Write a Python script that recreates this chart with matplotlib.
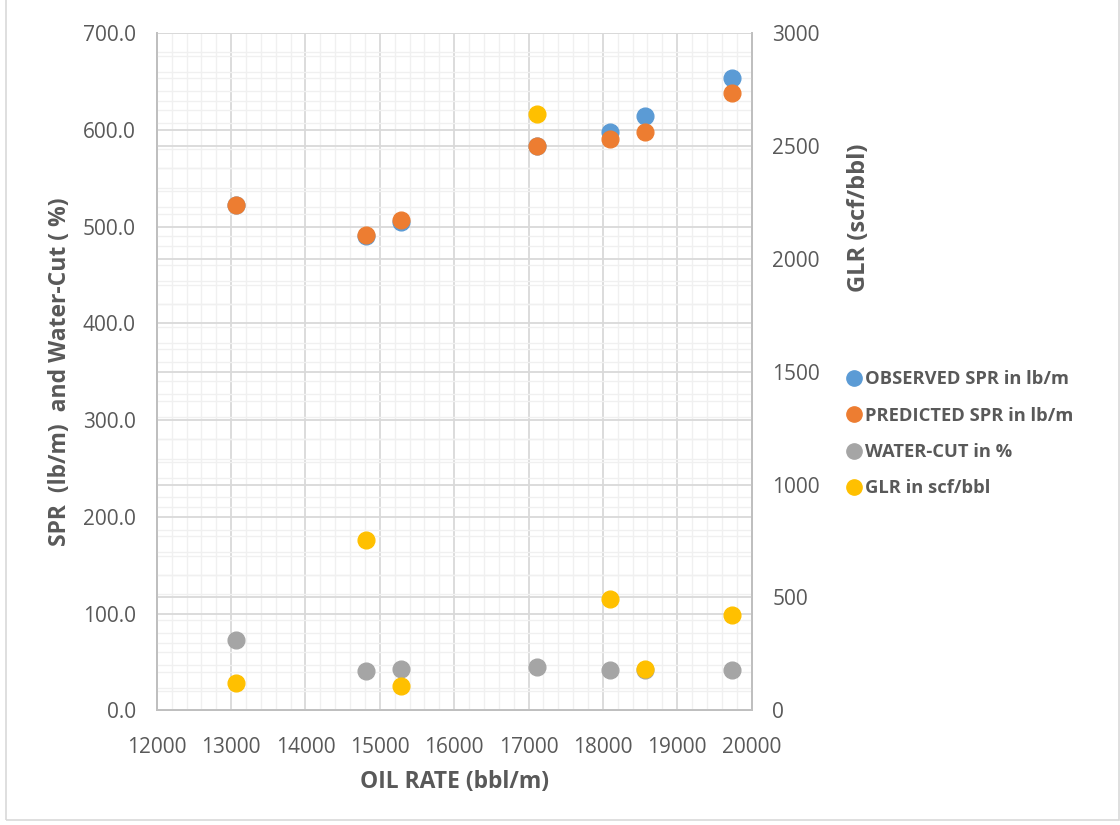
import numpy as np
import matplotlib.pyplot as plt
from matplotlib.ticker import MultipleLocator, FormatStrFormatter
from matplotlib.lines import Line2D

plt.rcParams['font.family'] = ['Open Sans', 'DejaVu Sans']

# Data
oil_rate = [13060, 14820, 15280, 17110, 18100, 18570, 19740]
observed_spr = [522, 490, 505, 583, 598, 614, 653]
predicted_spr = [522, 491, 507, 583, 590, 598, 638]
water_cut = [73, 41, 43, 45, 42, 42, 42]
glr = [120, 753, 106, 2641, 492, 182, 421]

c_obs = '#5B9BD5'
c_pred = '#ED7D31'
c_wc = '#A5A5A5'
c_glr = '#FFC000'
txt = '#595959'

fig = plt.figure(figsize=(11.2, 8.25), dpi=100)
ax = fig.add_axes([0.140, 0.139, 0.531, 0.821])
ax2 = ax.twinx()

ax.set_xlim(12000, 20000)
ax.set_ylim(0, 700)
ax2.set_ylim(0, 3000)

ax.xaxis.set_major_locator(MultipleLocator(1000))
ax.xaxis.set_minor_locator(MultipleLocator(200))
ax.yaxis.set_major_locator(MultipleLocator(100))
ax.yaxis.set_minor_locator(MultipleLocator(20))
ax.yaxis.set_major_formatter(FormatStrFormatter('%.1f'))
ax2.yaxis.set_major_locator(MultipleLocator(500))
ax2.yaxis.set_minor_locator(MultipleLocator(100))

# grids
ax.grid(which='major', color='#D9D9D9', lw=1.3)
ax.grid(which='minor', color='#F0F0F0', lw=1.0)
ax2.grid(which='major', axis='y', color='#D9D9D9', lw=1.3)
ax2.grid(which='minor', axis='y', color='#F0F0F0', lw=1.0)
ax.set_axisbelow(True)
ax2.set_axisbelow(True)

for a in (ax, ax2):
    for s in a.spines.values():
        s.set_color('#BFBFBF')
        s.set_linewidth(1.3)
    a.spines['top'].set_visible(False)
    a.tick_params(which='both', length=0, labelsize=15, labelcolor=txt, pad=15)
ax.tick_params(axis='x', pad=19)

# all points on the top axes so no grid line crosses them
ax2.scatter(oil_rate, observed_spr, s=145, color=c_obs, zorder=3, transform=ax.transData)
ax2.scatter(oil_rate, predicted_spr, s=145, color=c_pred, zorder=3, transform=ax.transData)
ax2.scatter(oil_rate, water_cut, s=145, color=c_wc, zorder=3, transform=ax.transData)
ax2.scatter(oil_rate, glr, s=145, color=c_glr, zorder=3)
ax2.set_ylim(0, 3000)

ax.set_xlabel('OIL RATE (bbl/m)', fontsize=16.5, fontweight='bold', color=txt, labelpad=9)
ax.set_ylabel('SPR  (lb/m)  and Water-Cut ( %)', fontsize=16.5, fontweight='bold', color=txt, labelpad=8)
ax2.set_ylabel('GLR (scf/bbl)', fontsize=17, fontweight='bold', color=txt)
ax2.yaxis.set_label_coords(1.16, 0.727)

labels = ['OBSERVED SPR in lb/m', 'PREDICTED SPR in lb/m', 'WATER-CUT in %', 'GLR in scf/bbl']
colors = [c_obs, c_pred, c_wc, c_glr]
handles = [Line2D([], [], ls='', marker='o', ms=11, color=c) for c in colors]
leg = fig.legend(handles, labels, loc='upper left', bbox_to_anchor=(0.74, 0.571),
                 frameon=False, handletextpad=0.1, labelspacing=1.0, handlelength=1.0,
                 prop={'size': 13.2, 'weight': 'bold'})
for t in leg.get_texts():
    t.set_color(txt)

# figure border
fig.add_artist(plt.Rectangle((0.005, 0.006), 0.994, 1.2, transform=fig.transFigure,
                             fill=False, edgecolor='#D9D9D9', lw=1.2))

fig.savefig('out.png', dpi=100)
